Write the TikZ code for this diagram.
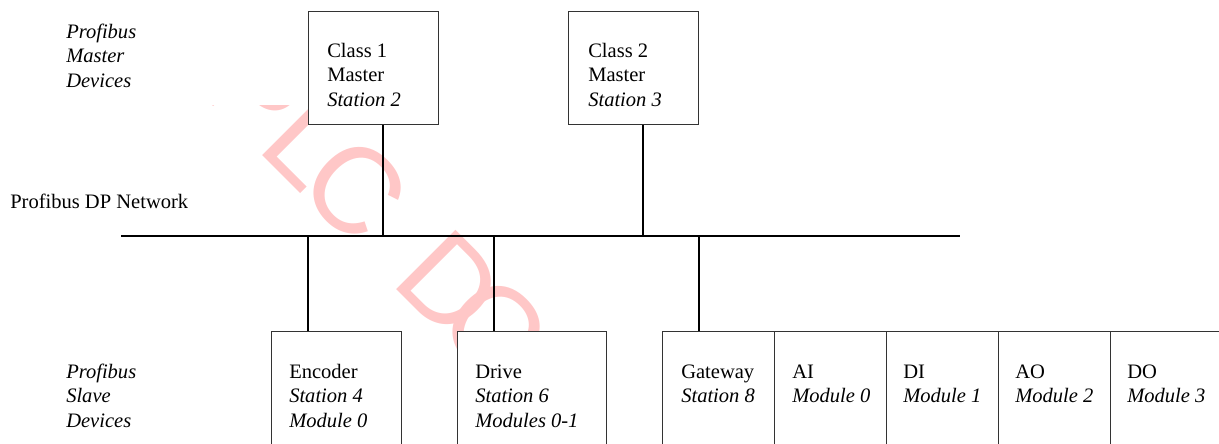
\documentclass[tikz,border=0pt]{standalone}
\usepackage{fontspec}
\setmainfont{Liberation Serif}
\newfontfamily\wmfont{Liberation Sans}
\begin{document}
\begin{tikzpicture}[x=0.75pt,y=-0.75pt,
  txt/.style={inner sep=0pt, anchor=north west, align=left, font=\fontsize{15.4}{18.4}\selectfont},
  box/.style={draw=black!80, line width=0.9pt, fill=white, inner sep=0pt, anchor=north west},
  mbox/.style={box, minimum width=97.5pt, minimum height=84.75pt},
  sbox/.style={box, minimum height=96.75pt},
  wire/.style={draw=black, line width=0.9pt},
  wm/.style={inner sep=0pt, anchor=base west, rotate=-45, text=red!22, font=\wmfont\fontsize{91.5}{100}\selectfont}]
\useasboundingbox (0,0) rectangle (1219,443);
% watermark
\node[wm] (wmark) at (198,91) {PL\kern-10pt C\kern10pt\ D\kern-20pt C\kern-14pt S};
\fill[white] (0,0) rectangle (308,105);
% bus
\coordinate (busL) at (121,236);
\coordinate (busR) at (960,236);
\coordinate (t1) at (383,236);
\coordinate (t2) at (643,236);
\coordinate (t3) at (308,236);
\coordinate (t4) at (494,236);
\coordinate (t5) at (699,236);
\draw[wire] (busL) -- (busR);
% master boxes
\node[mbox] (c1) at (308,11) {};
\node[mbox] (c2) at (568,11) {};
% slave boxes
\node[sbox, minimum width=97.5pt] (enc) at (271,331) {};
\node[sbox, minimum width=111.75pt] (drv) at (457,331) {};
\node[sbox, minimum width=84pt] (gw) at (662,331) {};
\node[sbox, minimum width=84pt] (ai) at (774,331) {};
\node[sbox, minimum width=84pt] (di) at (886,331) {};
\node[sbox, minimum width=84pt] (ao) at (998,331) {};
\node[sbox, minimum width=84pt] (do) at (1110,331) {};
% connectors
\draw[wire] (t1) -- (t1 |- c1.south);
\draw[wire] (t2) -- (t2 |- c2.south);
\draw[wire] (t3) -- (t3 |- enc.north);
\draw[wire] (t4) -- (t4 |- drv.north);
\draw[wire] (t5) -- (t5 |- gw.north);
% labels
\node[txt] (lm) at (66,20.8) {\strut\itshape Profibus\\\itshape Master\\\itshape Devices};
\node[txt] (ls) at (66,360.8) {\strut\itshape Profibus\\\itshape Slave\\\itshape Devices};
\node[txt, anchor=base west] (net) at (10,208) {Profibus DP Network};
% box texts
\node[txt] (c1t) at (327,39.8) {\strut Class 1\\Master\\\itshape Station 2};
\node[txt] (c2t) at (588,39.8) {\strut Class 2\\Master\\\itshape Station 3};
\node[txt] (enct) at (289,360.8) {\strut Encoder\\\itshape Station 4\\\itshape Module 0};
\node[txt] (drvt) at (475,360.8) {\strut Drive\\\itshape Station 6\\\itshape Modules 0-1};
\node[txt] (gwt) at (681,360.8) {\strut Gateway\\\itshape Station 8};
\node[txt] (ait) at (792,360.8) {\strut AI\\\itshape Module 0};
\node[txt] (dit) at (903,360.8) {\strut DI\\\itshape Module 1};
\node[txt] (aot) at (1015,360.8) {\strut AO\\\itshape Module 2};
\node[txt] (dot) at (1127,360.8) {\strut DO\\\itshape Module 3};
\end{tikzpicture}
\end{document}
